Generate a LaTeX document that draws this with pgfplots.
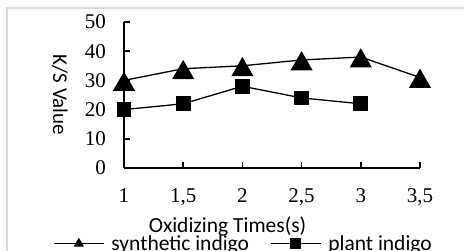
\documentclass[border=0pt]{standalone}
\usepackage{pgfplots}
\pgfplotsset{compat=1.18}
\usepackage{fontspec}
\setmainfont{Liberation Serif}
\newfontfamily\calibri{Carlito}
\begin{document}
\begin{tikzpicture}[x=1pt,y=1pt]
\useasboundingbox (0,0) rectangle (464,251);
\draw[color={rgb,255:red,217;green,217;blue,217}, line width=1.5pt] (7,-10) -- (7,243) -- (480,243);
\begin{axis}[
  at={(124pt,83pt)}, anchor=south west,
  scale only axis, width=296pt, height=146pt,
  xmin=1, xmax=3.5, ymin=0, ymax=50,
  clip=false,
  axis lines*=left, axis line style={line width=2.5pt, -},
  xtick={1,1.5,2,2.5,3,3.5}, ytick={0,10,20,30,40,50},
  tick align=inside, major tick length=6pt, tick style={line width=1.5pt, black},
  /pgf/number format/use comma, /pgf/number format/assume math mode=true,
  ticklabel style={font=\fontsize{21}{25}\selectfont, inner sep=0pt},
  xticklabel style={yshift=-20pt},
  yticklabel style={xshift=-18pt},
  xlabel={Oxidizing Times(s)},
  every axis x label/.style={at={(axis description cs:0.350,-0.445)}, anchor=base, font=\calibri\fontsize{21.5}{25}\selectfont, inner sep=0pt},
  ylabel={K/S Value},
  every axis y label/.style={at={(axis description cs:-0.216,0.5)}, anchor=center, font=\calibri\fontsize{21}{25}\selectfont, inner sep=0pt},
  y label style={rotate=-90},
  legend image code/.code={\draw[mark repeat=2,mark phase=2,#1] plot coordinates {(0pt,0pt) (25pt,0pt) (50pt,0pt)};},
  legend columns=2,
  legend style={draw=none, fill=none, at={(axis description cs:-0.240,-0.518)}, anchor=west,
    font=\calibri\fontsize{21.5}{25}\selectfont, inner sep=0pt, row sep=0pt,
    nodes={inner sep=0pt},
    /tikz/every odd column/.append style={column sep=7pt},
    /tikz/every even column/.append style={column sep=21pt}},
]
\addplot[black, line width=1.3pt, mark=triangle*, mark size=11.5pt, mark options={solid, yshift=-4pt}, forget plot]
  coordinates {(1,30) (1.5,34) (2,35) (2.5,37) (3,38) (3.5,31)};
\addplot[black, line width=1.3pt, mark=square*, mark size=6.75pt, mark options={solid}, forget plot]
  coordinates {(1,20) (1.5,22) (2,28) (2.5,24) (3,22)};
\addlegendimage{black, line width=1.3pt, mark=triangle*, mark size=4.6pt, mark options={solid}}
\addlegendentry{synthetic indigo}
\addlegendimage{black, line width=1.3pt, mark=square*, mark size=5pt, mark options={solid}}
\addlegendentry{plant indigo}
\end{axis}
\end{tikzpicture}
\end{document}
